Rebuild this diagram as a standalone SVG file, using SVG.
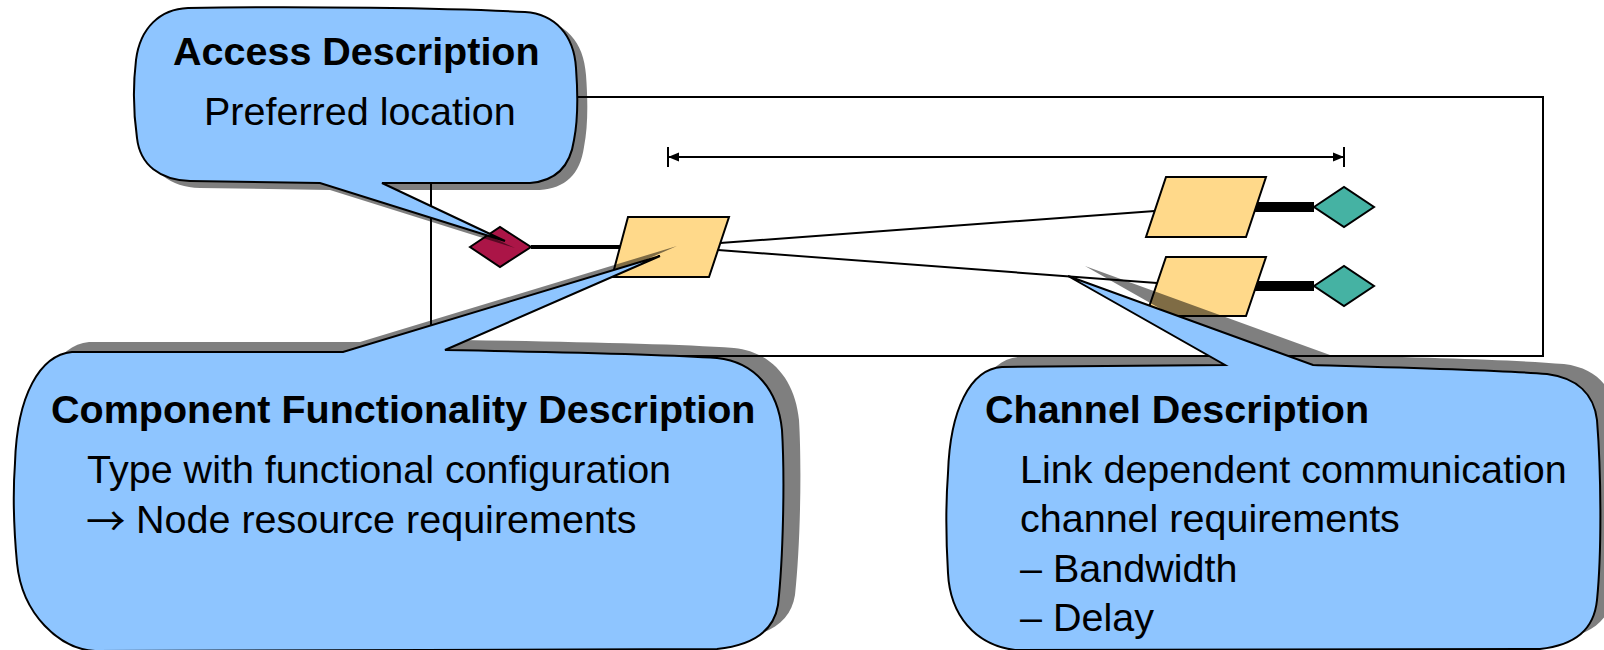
<svg xmlns="http://www.w3.org/2000/svg" xmlns:xlink="http://www.w3.org/1999/xlink" width="1604" height="650" viewBox="0 0 1604 650">
  <style>
    .frame { fill: none; stroke: #000; stroke-width: 2; }
    .thin { stroke: #000; stroke-width: 2; fill: none; }
    .bar4 { stroke: #000; stroke-width: 4; }
    .bar10 { stroke: #000; stroke-width: 10; }
    .component { fill: #FFD98A; stroke: #000; stroke-width: 2; stroke-linejoin: miter; }
    .access { fill: #AB1547; stroke: #000; stroke-width: 2; }
    .endpoint { fill: #45B2A3; stroke: #000; stroke-width: 2; }
    .balloon { fill: #8EC5FF; stroke: #000; stroke-width: 2; stroke-linejoin: miter; }
    .shadow { fill: #000; fill-opacity: 0.5; stroke: none; }
    .title { font-family: "Liberation Sans", Arial, sans-serif; font-size: 39.5px; font-weight: bold; fill: #000; }
    .body { font-family: "Liberation Sans", Arial, sans-serif; font-size: 39.5px; fill: #000; }
    .arrowglyph { font-family: "Noto Sans CJK JP", "Liberation Sans", sans-serif; }
  </style>
  <defs>
    <marker id="dimEnd" viewBox="0 0 14 22" markerWidth="14" markerHeight="22" refX="12" refY="11" markerUnits="userSpaceOnUse" orient="auto-start-reverse" overflow="visible">
      <path d="M1,6.5 L12,11 L1,15.5 Z" fill="#000"/>
      <path d="M12,1 V21" stroke="#000" stroke-width="2"/>
    </marker>
    <!-- callout outlines (body + pointer) -->
    <path id="accessShape" d="M188,8 C300,6 450,8 525,12 C555,14 574,35 576,68 C578,95 578,120 574,140 C570,168 555,181 530,183 L382,183 L505,241 L320,183 L190,181 C160,180 140,165 137,138 C133,110 133,85 136,60 C140,28 160,9 188,8 Z"/>
    <path id="componentShape" d="M72,352 L343,352 L660,256 L445,350 C560,352 660,354 717,358 C755,362 778,390 782,430 C785,480 783,560 778,605 C774,630 755,645 717,649 L95,651 C60,649 22,615 17,563 C13,520 13,490 15,463 C17,395 40,355 72,352 Z"/>
    <path id="channelShape" d="M1002,367 L1225,365 L1068,276 L1313,365 C1420,368 1500,370 1547,374 C1578,378 1594,395 1597,420 C1601,470 1602,550 1597,600 C1594,630 1575,645 1540,649 L1015,650 C975,645 950,615 948,573 C946,540 946,500 948,473 C950,410 970,369 1002,367 Z"/>
  </defs>

  <!-- system boundary -->
  <g id="boundary">
    <rect class="frame" x="431" y="97" width="1112" height="259"/>
  </g>

  <!-- connectors -->
  <g id="connectors">
    <line class="thin" x1="668" y1="157" x2="1344" y2="157" marker-start="url(#dimEnd)" marker-end="url(#dimEnd)"/>
    <line class="bar4" x1="531" y1="247" x2="620" y2="247"/>
    <line class="thin" x1="720" y1="243" x2="1155" y2="211"/>
    <line class="thin" x1="718" y1="250" x2="1157" y2="283"/>
    <line class="bar10" x1="1255" y1="207" x2="1314" y2="207"/>
    <line class="bar10" x1="1255" y1="286" x2="1314" y2="286"/>
  </g>

  <!-- nodes -->
  <g id="access-point">
    <polygon class="access" points="470,247 500,227 531,247 500,267"/>
  </g>
  <g id="component-main">
    <polygon class="component" points="628,217 729,217 709,277 612,277"/>
  </g>
  <g id="component-upper">
    <polygon class="component" points="1166,177 1266,177 1246,237 1146,237"/>
  </g>
  <g id="component-lower">
    <polygon class="component" points="1166,257 1266,257 1246,316 1146,316"/>
  </g>
  <g id="endpoint-upper">
    <polygon class="endpoint" points="1314,207 1344,187 1374,207 1344,227"/>
  </g>
  <g id="endpoint-lower">
    <polygon class="endpoint" points="1314,286 1344,266 1374,286 1344,306"/>
  </g>

  <!-- callouts -->
  <g id="access-description">
    <use xlink:href="#accessShape" class="shadow" transform="translate(10,7)"/>
    <use xlink:href="#accessShape" class="balloon"/>
    <text class="title" x="173" y="65">Access Description</text>
    <text class="body" x="204" y="125">Preferred location</text>
  </g>
  <g id="component-description">
    <use xlink:href="#componentShape" class="shadow" transform="translate(17,-10)"/>
    <use xlink:href="#componentShape" class="balloon"/>
    <text class="title" x="51" y="423">Component Functionality Description</text>
    <text class="body" x="87" y="483">Type with functional configuration</text>
    <text class="body" x="86" y="533"><tspan class="arrowglyph" dy="3">→</tspan><tspan x="136" y="533">Node resource requirements</tspan></text>
  </g>
  <g id="channel-description">
    <use xlink:href="#channelShape" class="shadow" transform="translate(17,-10)"/>
    <use xlink:href="#channelShape" class="balloon"/>
    <text class="title" x="985" y="423">Channel Description</text>
    <text class="body" x="1020" y="483">Link dependent communication</text>
    <text class="body" x="1020" y="532">channel requirements</text>
    <text class="body" x="1020" y="582">– Bandwidth</text>
    <text class="body" x="1020" y="631">– Delay</text>
  </g>
</svg>
